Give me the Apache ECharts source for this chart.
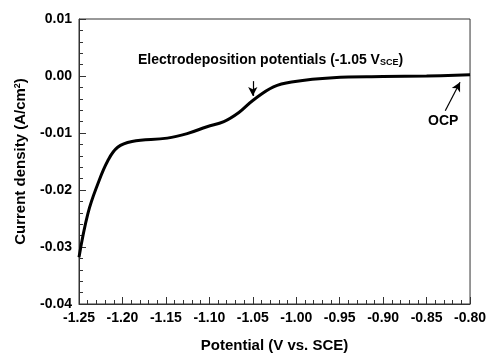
<!DOCTYPE html>
<html>
<head>
<meta charset="utf-8">
<script src="https://cdn.jsdelivr.net/npm/echarts@6/dist/echarts.min.js"></script>
<style>
  html, body { margin: 0; padding: 0; background: #fff; }
  #chart { width: 489px; height: 358px; }
</style>
</head>
<body>
<div id="chart"></div>
<script>
// potential (V vs. SCE)
const potential = [-1.25, -1.2397, -1.2285, -1.2170, -1.2055, -1.189, -1.1484, -1.1255, -1.1027, -1.0833, -1.066, -1.05, -1.0262, -1.0033, -0.9576, -0.90, -0.85, -0.80];
// current density (A/cm2)
const current = [-0.0318, -0.0241, -0.0190, -0.0149, -0.0125, -0.0115, -0.0109, -0.0101, -0.0089, -0.0080, -0.0064, -0.0043, -0.0019, -0.0010, -0.0003, -0.0001, 0.0, 0.0002];
// arrows: [x1, y1] -> [x2, y2]
const arrowElectro = [[-1.05, -0.0009], [-1.05, -0.0035]];
const arrowOCP = [[-0.8285, -0.0061], [-0.8115, -0.0011]];

const font = "Liberation Sans, Arial, sans-serif";
const chart = echarts.init(document.getElementById("chart"));

const option = {
  animation: false,
  grid: {
    left: 79, right: 16, top: 19, bottom: 50,
    show: true, borderColor: "#333", borderWidth: 1,
  },
  xAxis: {
    type: "value",
    min: -1.25, max: -0.8, interval: 0.05,
    name: "Potential (V vs. SCE)",
    nameLocation: "middle",
    nameGap: 34,
    nameTextStyle: { fontFamily: font, fontWeight: "bold", fontSize: 15, color: "#000" },
    axisLine: { onZero: false, lineStyle: { color: "#333", width: 1 } },
    axisTick: { inside: true, length: 7, lineStyle: { color: "#333" } },
    minorTick: { show: true, splitNumber: 5, length: 4, lineStyle: { color: "#333" } },
    splitLine: { show: false },
    axisLabel: {
      fontFamily: font, fontWeight: "bold", fontSize: 14, color: "#000", margin: 7,
      formatter: (v) => v.toFixed(2),
    },
  },
  yAxis: {
    type: "value",
    min: -0.04, max: 0.01, interval: 0.01,
    name: "{n|Current density (A/cm}{s|2}{n|)}",
    nameLocation: "middle",
    nameGap: 50,
    nameTextStyle: {
      rich: {
        n: { fontFamily: font, fontWeight: "bold", fontSize: 15, color: "#000" },
        s: { fontFamily: font, fontWeight: "bold", fontSize: 9, color: "#000", verticalAlign: "top", padding: [0, 0, 7, 0] },
      },
    },
    axisLine: { show: true, onZero: false, lineStyle: { color: "#333", width: 1 } },
    axisTick: { show: true, inside: true, length: 7, lineStyle: { color: "#333" } },
    minorTick: { show: true, splitNumber: 5, length: 4, lineStyle: { color: "#333" } },
    splitLine: { show: false },
    axisLabel: {
      fontFamily: font, fontWeight: "bold", fontSize: 14, color: "#000", margin: 7,
      formatter: (v) => (Math.abs(v) < 1e-9 ? "0.00" : v.toFixed(2)),
    },
  },
  series: [
    {
      type: "line",
      data: potential.map((x, i) => [x, current[i]]),
      smooth: 0.4,
      showSymbol: false,
      lineStyle: { color: "#000", width: 3 },
      markLine: {
        silent: true,
        symbol: ["none", "arrow"],
        symbolSize: [7, 9],
        label: { show: false },
        lineStyle: { color: "#000", width: 1.2, type: "solid" },
        data: [
          [{ coord: arrowElectro[0] }, { coord: arrowElectro[1] }],
          [{ coord: arrowOCP[0] }, { coord: arrowOCP[1] }],
        ],
      },
    },
  ],
  graphic: [
    {
      type: "text",
      left: 138, top: 53,
      style: {
        text: "{n|Electrodeposition potentials (-1.05 V}{s|SCE}{n|)}",
        rich: {
          n: { fontFamily: font, fontWeight: "bold", fontSize: 14, fill: "#000" },
          s: { fontFamily: font, fontWeight: "bold", fontSize: 9, fill: "#000", verticalAlign: "bottom", padding: [6, 0, 0, 0] },
        },
      },
    },
    {
      type: "text",
      left: 428, top: 114,
      style: { text: "OCP", fontFamily: font, fontWeight: "bold", fontSize: 14, fill: "#000" },
    },
  ],
};
chart.setOption(option);
</script>
</body>
</html>
